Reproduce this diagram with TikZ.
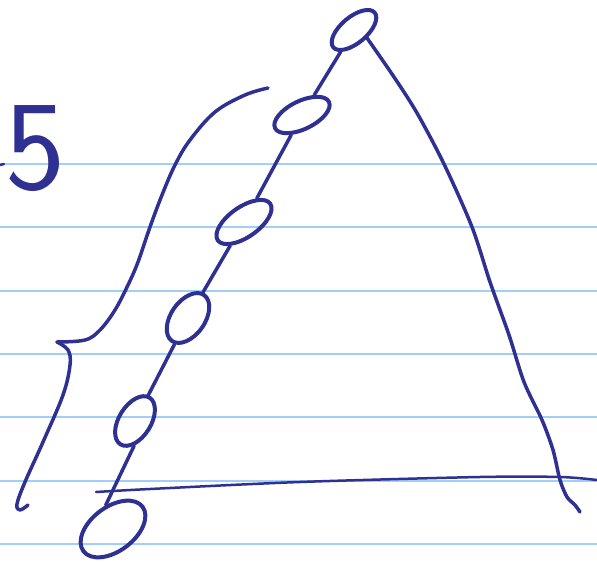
\documentclass[tikz,border=0pt]{standalone}
\usepackage{fontspec}
\usetikzlibrary{shapes.geometric}
\definecolor{ink}{RGB}{46,49,146}
\definecolor{ruleblue}{RGB}{160,208,250}

\begin{document}
\begin{tikzpicture}[x=1pt, y=-1pt,
  knot/.style={draw=ink, ellipse, line width=4pt, inner sep=0pt},
  pen/.style={draw=ink, line width=3.5pt, line cap=round, line join=round}]
\useasboundingbox (0,0) rectangle (597,564);
% ruled paper
\foreach \y in {164,227,291,354,417,481,544}
  \draw[ruleblue, line width=2pt] (0,\y) -- (597,\y);
% stray tick on the margin
\draw[pen, line width=2.5pt] (0,165) -- (4,164);
% the count
\node[text=ink, inner sep=0pt, font=\sffamily\fontsize{128}{128}\selectfont] (five) at (36,149) {5};
% chain of ellipses
\node[knot, minimum width=54pt, minimum height=26pt, rotate=40] (k1) at (354,30) {};
\node[knot, minimum width=60pt, minimum height=28pt, rotate=26] (k2) at (302,115) {};
\node[knot, minimum width=64pt, minimum height=30pt, rotate=35] (k3) at (244,222) {};
\node[knot, minimum width=56pt, minimum height=34pt, rotate=55] (k4) at (188,318) {};
\node[knot, minimum width=55pt, minimum height=32pt, rotate=58] (k5) at (135,421) {};
\node[knot, minimum width=74pt, minimum height=44pt, rotate=37] (k6) at (113,529) {};
% left side
\draw[pen] (k1) -- (k2);
\draw[pen] (k2) -- (k3);
\draw[pen] (k3) -- (k4);
\draw[pen] (k4) -- (k5);
\draw[pen] (k5.-150) -- (k6.70);
% right side
\coordinate (tipr) at (580,512);
\draw[pen] plot[smooth, tension=0.5] coordinates {(k1.-72) (394,77) (417,113) (444,164) (472,227) (490,282) (509,335) (524,382) (542,420) (553,450) (560,480) (567,497) (575,505) (tipr)};
% base
\coordinate (basel) at (96,492);
\coordinate (baser) at (597,480);
\draw[pen, line width=2.5pt] plot[smooth] coordinates {(basel) (150,489) (300,482) (480,477) (560,477) (baser)};
% brace
\draw[pen] plot[smooth, tension=0.6] coordinates {(268,88) (245,95) (215,112) (190,140) (175,165) (162,195) (150,227) (138,262) (128,285) (115,310) (100,330) (85,340) (57,342)};
\draw[pen] plot[smooth, tension=0.6] coordinates {(57,342) (68,350) (70,365) (63,395) (43,442) (25,482) (17,504) (20,510) (28,505)};
\end{tikzpicture}
\end{document}
